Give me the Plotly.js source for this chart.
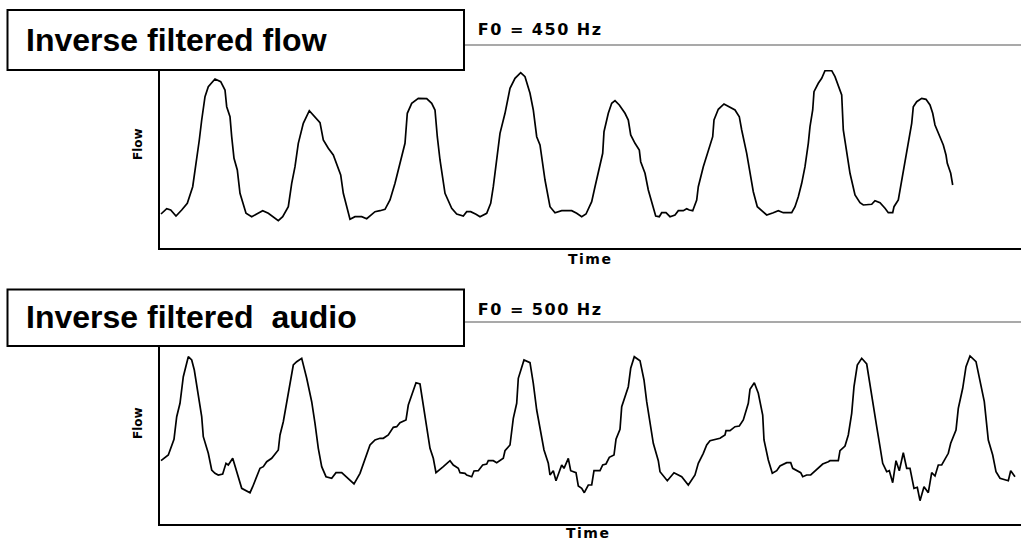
<!DOCTYPE html>
<html>
<head>
<meta charset="utf-8">
<script src="https://cdn.plot.ly/plotly-3.0.1.min.js"></script>
<style>
  html, body { margin: 0; padding: 0; background: #ffffff; }
  #chart { width: 1021px; height: 542px; }
  .annotation[data-index="2"] text, .annotation[data-index="3"] text { letter-spacing: 1.5px; }
  .annotation[data-index="4"] text, .annotation[data-index="5"] text { letter-spacing: 1.5px; }
</style>
</head>
<body>
<div id="chart"></div>
<script>
// ---- Panel titles and labels ----
var panelTitles = ["Inverse filtered flow", "Inverse filtered  audio"];
var f0Labels = ["F0 = 450 Hz", "F0 = 500 Hz"];
var xLabel = "Time";
var yLabel = "Flow";

// ---- Top panel: inverse filtered flow (time, flow in arbitrary units) ----
var timeTop = [1,6.7,10.7,16,21.7,27.3,32.7,36.7,39.3,41.7,
45,48.3,55,60.7,65,66.7,70,71.7,74,77.3,
80,86,91.7,96.7,102.7,108.3,113.3,118.3,122.7,128.3,
131.7,135,138.3,143.3,149.3,155,160,163.3,168.3,173.3,
177.3,180.7,183.3,186.7,190,195,201.7,206.7,211.7,215,
220,225,230,235,240,245,247.3,251.7,258.3,266.7,
271.7,275,277.3,280,285,291.7,296.7,303.3,306.7,310.7,
316,320,326.7,330.7,333.3,336.7,340,345,350,355,
360.7,365,370,373.3,376.7,380,385,390,395,401.7,
411.7,416.7,421.7,426,431.7,435,440,442.7,444,448.3,
451.7,455,459.3,465,468.3,470.7,475,479.3,480.7,485,
488.3,491.7,495.7,499.3,501.7,506,510,515,518.3,523.3,
526.7,529.3,532.7,536.7,538.3,543.3,548.3,552.7,554,558.3,
564,569.3,575,579.3,581.7,586.7,590,593.3,597.3,602.7,
606.7,613.3,618.3,623.3,631.7,635,638.3,641.7,645,648.3,
650,652.7,654,658.3,661.7,665,671.7,675,678.3,681.7,
683.3,686.7,690,695,700,703.3,711.7,715,720,725,
728.3,732.7,734,738.3,741.7,745,748.3,751.7,753.3,756.7,
761.7,766,770,772.7,775,779.3,783.3,786,787.3,790.7,
792.7];
var flowTop = [34,39.3,38,32,38,44.7,61.3,88,108,128,
151.3,161.3,169,166.3,158,141.3,131.3,111.3,89.7,78,
54.7,34.7,31.3,34,37.3,34.7,31.3,27.3,31.3,41.3,
64.7,81.3,104.7,124.7,137.3,131.3,125.3,108,99.7,93,
81.3,73,54.7,41.3,28.7,31.3,31.3,29.3,33,36.3,
37.3,38.7,48,64.7,84.7,104.7,134.7,144.7,149.7,149.3,
144.7,138,111.3,88,54.7,39.7,34,32,36.3,36.3,
33.7,31.3,34.7,44.7,61.3,88,114.7,134.7,159.7,169.7,
175.3,171.3,154.7,138,111.3,103,68,41.3,35.3,37.3,
37.3,34.7,31.3,34,46.3,61.3,81.3,94.7,116.3,134.7,
144.7,147.3,143,134.7,128,113,104.7,98,86.3,74.7,
58,44.7,32,31.3,35.3,35.3,31.3,33,37.3,37.3,
39.3,38,37.3,48,61.3,81.3,98,111.3,128,138.7,
144,141.3,138,131.3,118,94.7,74.7,56.3,41.3,36.3,
33,35.3,37.3,35.3,35.3,41.3,51.3,64.7,81.3,104.7,
121.3,138,156.3,164.7,169.7,177.3,177.3,171.3,161.3,153,
118,98,74.7,53,45.3,43,43.7,47.3,45.3,39.7,
35.3,35.3,41.3,48,68,84.7,108,124.7,141.3,146.3,
149.7,148.7,143,134.7,123,113,103,93,84.7,74.7,
63];

// ---- Bottom panel: inverse filtered audio ----
var timeBottom = [1,8.3,14,16.7,20,23.3,28.3,31.7,34.3,38.3,
41.7,43.3,48.3,51.7,55,58.3,62.7,66,68.3,72.7,
77.3,81.7,90,92.7,100,103.3,106.7,111.7,118.3,120,
123.3,126.7,130,133.3,136.7,141.7,146.7,151.7,155,158.3,
161.7,166,171.7,176,181.7,188.3,194,200,205,210,
215,220,223.3,228.3,233.3,236.7,240,246,248.3,251.7,
256,260,263.3,266.7,270,273.3,276,283.3,290,293.3,
298.3,300,305,306.7,311.7,314,318.3,322.7,326.7,328.3,
333.3,336.7,343.3,345,350,353.3,356.7,358.3,364,370,
373.3,376.7,380,384,388.3,390,393.3,396,401.7,404,
408.3,410.7,416,418.3,421.7,424.3,428.3,431.7,434,440,
442.7,446,449.3,454,456,460,461.7,465,468.3,470.7,
474.3,480,484,486.7,490,493.3,498.3,500,507.3,514,
521.7,528.3,535,538.3,543.3,546.7,550,560,565,566,
570,575,579.3,583.3,588.3,590,594.3,598.3,602.7,604,
608.3,612.3,616.7,620,626.7,630.7,632.7,636.7,640.7,642.7,
646.7,650.7,656.7,662.7,668.3,670,678.3,680,685,688.3,
691.7,694,697.3,701.7,706.7,710,713.3,716.7,720,722.7,
726.7,729.3,732.7,736,739.3,743.3,746.7,750,754,757.3,
760,764,768.3,771.7,775,778.3,781.7,786,788.3,790.7,
796,798.3,802.7,806,810,816,820,824.3,828.3,832.7,
836,840,848.3,850.7,855];
var flowBottom = [63.3,69,84.7,107.3,120.7,147.3,167.3,164,154,130.7,
107.3,87.3,70.7,54,50.7,49,50,60.7,59,65.7,
50.7,35.7,31.3,37.3,55.7,57.3,62.3,65.7,74,89,
102.3,120.7,140.7,159,162.3,165.7,145.7,122.3,100.7,75.7,
57.3,47.3,45.7,51.3,51.3,45.7,40,50.7,64,79,
84,85.7,85.7,89,96.7,97.3,101.3,104,119,129,
141.3,140,117.3,97.3,75.7,65.7,51.3,57.3,63.3,59,
55.7,51.3,50.7,49,47.3,53,53.3,59,60,63.3,
63.3,61.3,65.7,73.3,79,105.7,120.7,145.7,164,161.3,
140.7,114,97.3,74,60.7,49,53.3,43.3,59,55.7,
65.7,53.3,51.3,38,35.7,31.3,39,39,53.3,53.3,
59,60,66.7,69,84.7,94.7,117.3,127.3,137.3,155.7,
167.3,163.3,144,122.3,100.7,80.7,63.3,52.3,43.3,51.3,
47.3,39,49,60.7,70.7,79,83.3,85.7,89,93.3,
93.3,97.3,98,104,120.7,134.7,141.3,130.7,109,84,
64,50.7,53.3,58,61.3,61.3,55.7,53.3,51.3,47.3,
49,49,54.7,60,62.3,63.3,63.3,73.3,78,89,
110.7,137.3,159,165.7,160,140.7,117.3,97.3,77.3,60.7,
52.3,53.3,41.3,63.3,53.3,71.3,55.7,55.7,35.7,36.7,
23.3,37.3,31.3,51.3,48,59,59,67.3,70.7,80.7,
94,115.7,135.7,157.3,168,162.3,144,122.3,84,69,
52.3,45.7,43.3,53.3,47.3];

// ---- Axis ranges ----
var timeRange = [0, 861];
var flowRangeTop = [0, 178];
var flowRangeBottom = [0, 177];

// ---- Build figure ----
var W = 1021, H = 542;
function px(x) { return x / W; }
function py(y) { return 1 - y / H; }

var lineStyle = { color: "#000000", width: 1.7, shape: "linear" };
var traces = [
  { x: timeTop, y: flowTop, type: "scatter", mode: "lines", line: lineStyle, xaxis: "x", yaxis: "y", showlegend: false, hoverinfo: "skip" },
  { x: timeBottom, y: flowBottom, type: "scatter", mode: "lines", line: lineStyle, xaxis: "x2", yaxis: "y2", showlegend: false, hoverinfo: "skip" }
];

function axisStyle(extra) {
  var a = { showline: true, linecolor: "#000000", linewidth: 2, showgrid: false, zeroline: false,
            showticklabels: false, ticks: "", fixedrange: true };
  for (var k in extra) a[k] = extra[k];
  return a;
}

var boldTitleFont = { family: "Liberation Sans, Arial, sans-serif", size: 32, color: "#000000", weight: 700 };
var f0Font = { family: "DejaVu Sans, Verdana, sans-serif", size: 16, color: "#000000", weight: 700 };
var timeFont = { family: "DejaVu Sans, Verdana, sans-serif", size: 14, color: "#000000", weight: 700 };
var flowFont = { family: "DejaVu Sans, Verdana, sans-serif", size: 12, color: "#000000", weight: 700 };

var annotations = [
  { text: panelTitles[0], xref: "paper", yref: "paper", x: px(24), y: py(40), xanchor: "left", yanchor: "middle", showarrow: false, font: boldTitleFont },
  { text: panelTitles[1], xref: "paper", yref: "paper", x: px(24), y: py(317), xanchor: "left", yanchor: "middle", showarrow: false, font: boldTitleFont },
  { text: f0Labels[0], xref: "paper", yref: "paper", x: px(484), y: py(29), xanchor: "left", yanchor: "middle", showarrow: false, font: f0Font },
  { text: f0Labels[1], xref: "paper", yref: "paper", x: px(484), y: py(309), xanchor: "left", yanchor: "middle", showarrow: false, font: f0Font },
  { text: xLabel, xref: "paper", yref: "paper", x: px(569), y: py(259), xanchor: "left", yanchor: "middle", showarrow: false, font: timeFont },
  { text: xLabel, xref: "paper", yref: "paper", x: px(567), y: py(533), xanchor: "left", yanchor: "middle", showarrow: false, font: timeFont },
  { text: yLabel, xref: "paper", yref: "paper", x: px(138), y: py(144), xanchor: "center", yanchor: "middle", textangle: -90, showarrow: false, font: flowFont },
  { text: yLabel, xref: "paper", yref: "paper", x: px(138), y: py(423), xanchor: "center", yanchor: "middle", textangle: -90, showarrow: false, font: flowFont }
];

var shapes = [
  { type: "rect", xref: "paper", yref: "paper", x0: px(7.5), x1: px(464), y0: py(70), y1: py(10), line: { color: "#000000", width: 2 }, fillcolor: "rgba(0,0,0,0)" },
  { type: "rect", xref: "paper", yref: "paper", x0: px(7.5), x1: px(464), y0: py(346), y1: py(289.5), line: { color: "#000000", width: 2 }, fillcolor: "rgba(0,0,0,0)" },
  { type: "line", xref: "paper", yref: "paper", x0: px(465), x1: 1, y0: py(45), y1: py(45), line: { color: "#8c8c8c", width: 1.6 } },
  { type: "line", xref: "paper", yref: "paper", x0: px(465), x1: 1, y0: py(322), y1: py(322), line: { color: "#8c8c8c", width: 1.6 } }
];

var layout = {
  width: W, height: H,
  margin: { l: 0, r: 0, t: 0, b: 0, pad: 0 },
  paper_bgcolor: "#ffffff", plot_bgcolor: "#ffffff",
  showlegend: false,
  xaxis: axisStyle({ domain: [px(160), 1], range: timeRange, anchor: "y" }),
  yaxis: axisStyle({ domain: [py(248), py(70)], range: flowRangeTop, anchor: "x" }),
  xaxis2: axisStyle({ domain: [px(160), 1], range: timeRange, anchor: "y2" }),
  yaxis2: axisStyle({ domain: [py(524), py(347)], range: flowRangeBottom, anchor: "x2" }),
  annotations: annotations,
  shapes: shapes
};

Plotly.newPlot("chart", traces, layout, { staticPlot: true, displayModeBar: false });
</script>
</body>
</html>
